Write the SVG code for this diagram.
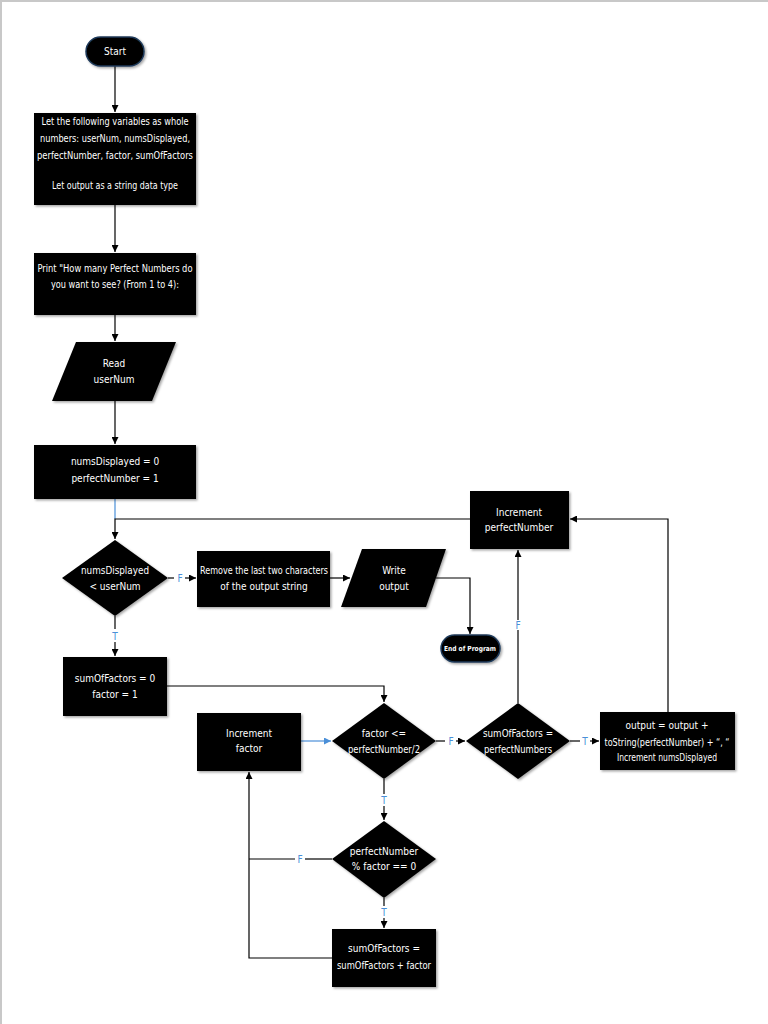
<svg xmlns="http://www.w3.org/2000/svg" width="768" height="1024" viewBox="0 0 768 1024">
<defs>
<marker id="ah" viewBox="0 0 8 8" refX="8" refY="4" markerWidth="7" markerHeight="7" markerUnits="userSpaceOnUse" orient="auto">
<path d="M0,0 L8,4 L0,8 z" fill="#000"/>
</marker>
<marker id="ahb" viewBox="0 0 8 8" refX="8" refY="4" markerWidth="7" markerHeight="7" markerUnits="userSpaceOnUse" orient="auto">
<path d="M0,0 L8,4 L0,8 z" fill="#4a8fd8"/>
</marker>
<filter id="sh" x="-10%" y="-10%" width="130%" height="130%">
<feDropShadow dx="1.5" dy="1.5" stdDeviation="1" flood-color="#000" flood-opacity="0.35"/>
</filter>
</defs>
<style>
.n{fill:#000;filter:url(#sh)}
.term{fill:#000;stroke:#1f3a5a;stroke-width:1.5;filter:url(#sh)}
.t{fill:#fff;font-family:"DejaVu Sans Condensed","Liberation Sans",sans-serif;font-size:10px;text-anchor:middle}
.sm{font-size:7px;font-weight:bold}
.c{fill:none;stroke:#000;stroke-width:1.2}
.cb{fill:none;stroke:#4a8fd8;stroke-width:1.2}
.lb{fill:#4a8fd8;font-family:"DejaVu Sans Condensed","Liberation Sans",sans-serif;font-size:10px;text-anchor:middle}
</style>
<rect x="0" y="0" width="768" height="1024" fill="#fff"/>
<line x1="0" y1="1" x2="768" y2="1" stroke="#c8c8c8" stroke-width="2"/>
<line x1="1" y1="0" x2="1" y2="1024" stroke="#c8c8c8" stroke-width="2"/>

<g id="connectors">
<path class="c" d="M115,66 V112" marker-end="url(#ah)"/>
<path class="c" d="M115,205 V252" marker-end="url(#ah)"/>
<path class="c" d="M115,315 V341" marker-end="url(#ah)"/>
<path class="c" d="M115,401 V444" marker-end="url(#ah)"/>
<path class="cb" d="M115,499 V519"/>
<path class="c" d="M470,519 H115 V539" marker-end="url(#ah)"/>
<path class="c" d="M168,578 H174"/>
<path class="c" d="M185,578 H196" marker-end="url(#ah)"/>
<path class="c" d="M330,578 H350" marker-end="url(#ah)"/>
<path class="c" d="M436,578 H470 V634" marker-end="url(#ah)"/>
<path class="c" d="M115,616 V629"/>
<path class="c" d="M115,642 V656" marker-end="url(#ah)"/>
<path class="c" d="M167,686 H384 V702" marker-end="url(#ah)"/>
<path class="cb" d="M301,741 H331" marker-end="url(#ahb)"/>
<path class="c" d="M436,741 H445"/>
<path class="c" d="M456,741 H465" marker-end="url(#ah)"/>
<path class="c" d="M518,703 V630"/>
<path class="c" d="M518,620 V550" marker-end="url(#ah)"/>
<path class="c" d="M570,741 H580"/>
<path class="c" d="M590,741 H599" marker-end="url(#ah)"/>
<path class="c" d="M668,712 V519 H570" marker-end="url(#ah)"/>
<path class="c" d="M384,779 V794"/>
<path class="c" d="M384,806 V820" marker-end="url(#ah)"/>
<path class="c" d="M332,859 H305"/>
<path class="c" d="M295,859 H249"/>
<path class="c" d="M384,898 V906"/>
<path class="c" d="M384,918 V928" marker-end="url(#ah)"/>
<path class="c" d="M332,958 H249 V772" marker-end="url(#ah)"/>
<text class="lb" x="180" y="582">F</text>
<text class="lb" x="115" y="640">T</text>
<text class="lb" x="451" y="745">F</text>
<text class="lb" x="518" y="629">F</text>
<text class="lb" x="585" y="745">T</text>
<text class="lb" x="384" y="804">T</text>
<text class="lb" x="300" y="863">F</text>
<text class="lb" x="384" y="916">T</text>
</g>

<g id="start">
<rect class="term" x="86" y="37" width="58" height="29" rx="14.5"/>
<text class="t" x="115" y="55">Start</text>
</g>

<g id="declare">
<rect class="n" x="34" y="113" width="162" height="92"/>
<text class="t" x="115" y="125" textLength="147" lengthAdjust="spacingAndGlyphs">Let the following variables as whole</text>
<text class="t" x="115" y="142" textLength="150" lengthAdjust="spacingAndGlyphs">numbers: userNum, numsDisplayed,</text>
<text class="t" x="115" y="159" textLength="156" lengthAdjust="spacingAndGlyphs">perfectNumber, factor, sumOfFactors</text>
<text class="t" x="115" y="189" textLength="126" lengthAdjust="spacingAndGlyphs">Let output as a string data type</text>
</g>

<g id="print">
<rect class="n" x="34" y="253" width="162" height="62"/>
<text class="t" x="115" y="272" textLength="155" lengthAdjust="spacingAndGlyphs">Print "How many Perfect Numbers do</text>
<text class="t" x="115" y="288" textLength="128" lengthAdjust="spacingAndGlyphs">you want to see? (From 1 to 4):</text>
</g>

<g id="read">
<polygon class="n" points="76,342 176,342 152,401 52,401"/>
<text class="t" x="114" y="367">Read</text>
<text class="t" x="114" y="383">userNum</text>
</g>

<g id="init">
<rect class="n" x="34" y="445" width="162" height="54"/>
<text class="t" x="115" y="465">numsDisplayed = 0</text>
<text class="t" x="115" y="482">perfectNumber = 1</text>
</g>

<g id="cond1">
<polygon class="n" points="115,540 168,578 115,616 62,578"/>
<text class="t" x="115" y="574" textLength="68" lengthAdjust="spacingAndGlyphs">numsDisplayed</text>
<text class="t" x="115" y="590">&lt; userNum</text>
</g>

<g id="remove">
<rect class="n" x="197" y="551" width="133" height="56"/>
<text class="t" x="264" y="574" textLength="128" lengthAdjust="spacingAndGlyphs">Remove the last two characters</text>
<text class="t" x="264" y="590">of the output string</text>
</g>

<g id="write">
<polygon class="n" points="362,549 446,549 426,607 341,607"/>
<text class="t" x="394" y="574">Write</text>
<text class="t" x="394" y="590">output</text>
</g>

<g id="end">
<rect class="term" x="441" y="635" width="59" height="27" rx="13.5"/>
<text class="t sm" x="470" y="651" textLength="52" lengthAdjust="spacingAndGlyphs">End of Program</text>
</g>

<g id="initFactor">
<rect class="n" x="63" y="657" width="104" height="59"/>
<text class="t" x="115" y="682">sumOfFactors = 0</text>
<text class="t" x="115" y="698">factor = 1</text>
</g>

<g id="incFactor">
<rect class="n" x="197" y="713" width="104" height="58"/>
<text class="t" x="249" y="737">Increment</text>
<text class="t" x="249" y="752">factor</text>
</g>

<g id="cond2">
<polygon class="n" points="384,703 436,741 384,779 332,741"/>
<text class="t" x="384" y="737">factor &lt;=</text>
<text class="t" x="384" y="753" textLength="72" lengthAdjust="spacingAndGlyphs">perfectNumber/2</text>
</g>

<g id="cond3">
<polygon class="n" points="518,703 570,741 518,779 466,741"/>
<text class="t" x="518" y="737" textLength="70" lengthAdjust="spacingAndGlyphs">sumOfFactors =</text>
<text class="t" x="518" y="753" textLength="68" lengthAdjust="spacingAndGlyphs">perfectNumbers</text>
</g>

<g id="incPerfect">
<rect class="n" x="470" y="491" width="99" height="58"/>
<text class="t" x="519" y="516">Increment</text>
<text class="t" x="519" y="531">perfectNumber</text>
</g>

<g id="output">
<rect class="n" x="600" y="712" width="135" height="58"/>
<text class="t" x="667" y="729">output  = output +</text>
<text class="t" x="667" y="746" textLength="125" lengthAdjust="spacingAndGlyphs">toString(perfectNumber) + “, “</text>
<text class="t" x="667" y="761" textLength="100" lengthAdjust="spacingAndGlyphs">Increment numsDisplayed</text>
</g>

<g id="cond4">
<polygon class="n" points="384,821 436,859 384,898 332,859"/>
<text class="t" x="384" y="855">perfectNumber</text>
<text class="t" x="384" y="870">% factor == 0</text>
</g>

<g id="addFactor">
<rect class="n" x="332" y="929" width="104" height="58"/>
<text class="t" x="384" y="952">sumOfFactors =</text>
<text class="t" x="384" y="969" textLength="94" lengthAdjust="spacingAndGlyphs">sumOfFactors + factor</text>
</g>
</svg>
